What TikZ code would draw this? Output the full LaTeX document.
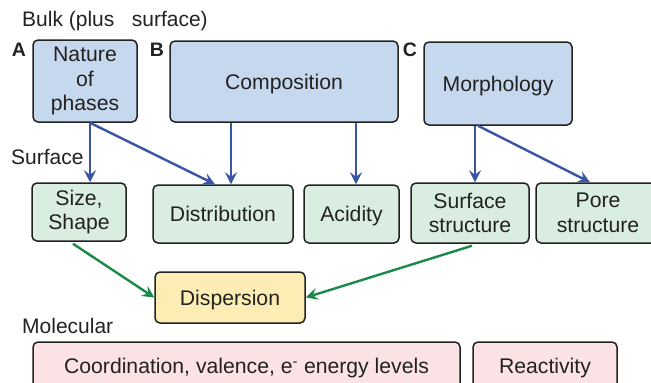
\documentclass[tikz,border=0pt]{standalone}
\usepackage{fontspec}
\setmainfont{Liberation Sans}
\usetikzlibrary{arrows.meta}
\definecolor{bluefill}{HTML}{C6D8EE}
\definecolor{greenfill}{HTML}{D9EDE1}
\definecolor{yellowfill}{HTML}{FCEDB4}
\definecolor{pinkfill}{HTML}{FAE2E5}
\definecolor{bluearrow}{HTML}{3A54A6}
\definecolor{greenarrow}{HTML}{1B8A48}
\definecolor{textdark}{HTML}{222222}
\tikzset{
  box/.style={draw=textdark, line width=1.5pt, rounded corners=5pt, align=center,
    text=textdark, font=\fontsize{21.2}{24.5}\selectfont, inner sep=0pt},
  oneline/.style={text depth=0pt},
  bulkbox/.style={box, fill=bluefill},
  surfbox/.style={box, fill=greenfill},
  dispbox/.style={box, fill=yellowfill},
  molbox/.style={box, fill=pinkfill},
  lbl/.style={text=textdark, font=\fontsize{21}{24}\selectfont, inner sep=0pt, anchor=west},
  letter/.style={text=textdark, font=\fontsize{19.5}{22}\selectfont\bfseries, inner sep=0pt},
  bluearr/.style={draw=bluearrow, line width=2.4pt, -{Stealth[length=12pt,width=12pt,inset=4.5pt]}},
  greenarr/.style={draw=greenarrow, line width=2.4pt, -{Stealth[length=12pt,width=12pt,inset=4.5pt]}},
}
\begin{document}
\begin{tikzpicture}[x=1pt,y=-1pt]
\useasboundingbox (0,0) rectangle (651,383);
\clip (0,0) rectangle (651,383);
\fill[white] (0,0) rectangle (651,383);

% labels
\node[lbl] (bulk) at (22,21) {Bulk (plus\ \ \ surface)};
\node[lbl] (surflbl) at (11,157) {Surface};
\node[lbl] (mollbl) at (22,326) {Molecular};
\node[letter] (la) at (19,50) {A};
\node[letter] (lb) at (157,50) {B};
\node[letter] (lc) at (410,50) {C};

% bulk boxes
\node[bulkbox, minimum width=104pt, minimum height=82pt] (nat) at (85,81) {Nature\\of\\phases};
\node[bulkbox, oneline, minimum width=228pt, minimum height=81pt] (comp) at (284,81.5) {Composition};
\node[bulkbox, oneline, minimum width=148pt, minimum height=83pt] (morph) at (498,83.5) {Morphology};

% surface boxes
\node[surfbox, minimum width=94pt, minimum height=58pt] (size) at (79,212) {Size,\\Shape};
\node[surfbox, oneline, minimum width=140pt, minimum height=58pt] (dist) at (223,214) {Distribution};
\node[surfbox, oneline, minimum width=95pt, minimum height=58pt] (acid) at (351.5,214) {Acidity};
\node[surfbox, minimum width=118pt, minimum height=60pt] (surf) at (470,213) {Surface\\structure};
\node[surfbox, minimum width=124pt, minimum height=60pt] (pore) at (598,213) {Pore\\structure};

% dispersion
\node[dispbox, oneline, minimum width=150pt, minimum height=51pt] (disp) at (230,297.5) {Dispersion};

% molecular
\node[molbox, oneline, minimum width=427pt, minimum height=48pt] (coord) at (246.5,366) {Coordination, valence, e\textsuperscript{-} energy levels};
\node[molbox, oneline, minimum width=144pt, minimum height=48pt] (react) at (545,366) {Reactivity};

% blue arrows
\draw[bluearr] ([xshift=5pt]nat.south) -- ([xshift=11pt]size.north);
\draw[bluearr] ([xshift=5pt]nat.south) -- ([xshift=-8pt]dist.north);
\draw[bluearr] ([xshift=-53pt]comp.south) -- ([xshift=8pt]dist.north);
\draw[bluearr] ([xshift=72pt]comp.south) -- ([xshift=4.5pt]acid.north);
\draw[bluearr] ([xshift=-23pt]morph.south) -- ([xshift=5pt]surf.north);
\draw[bluearr] ([xshift=-20pt]morph.south) -- ([xshift=-8pt]pore.north);

% green arrows
\draw[greenarr] ([xshift=-6pt,yshift=-2pt]size.south) -- (disp.west);
\draw[greenarr] ([xshift=2pt,yshift=-2pt]surf.south) -- (disp.east);
\end{tikzpicture}
\end{document}
